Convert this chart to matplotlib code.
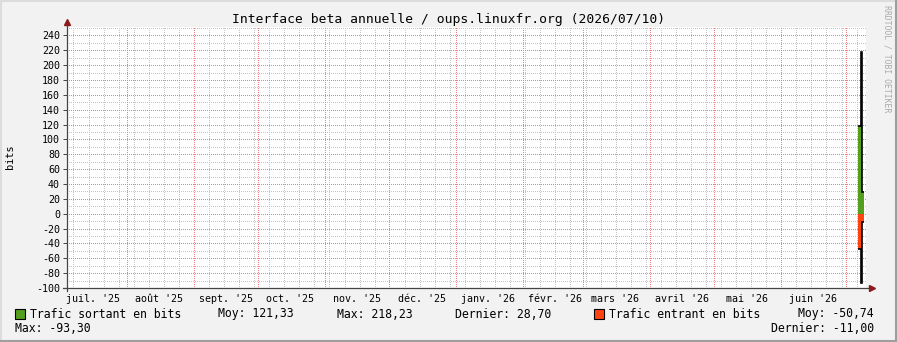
import numpy as np
import pandas as pd
import matplotlib
matplotlib.use('Agg')
import matplotlib.pyplot as plt
import matplotlib.dates as mdates
from matplotlib.lines import Line2D
from matplotlib.patches import Rectangle

# --- data ---
x_start = pd.Timestamp('2025-07-04 03:00')
x_end = pd.Timestamp('2026-07-10 12:00')

area_edges = pd.to_datetime(['2026-07-06 19:00', '2026-07-08 10:00', '2026-07-09 19:00'])
out_area = [117.5, 28.7]      # trafic sortant (moyenne)
in_area = [-47.0, -11.0]      # trafic entrant (moyenne)

line_edges = pd.to_datetime(['2026-07-06 19:00', '2026-07-08 06:00', '2026-07-08 12:00', '2026-07-09 19:00'])
out_max = [117.5, 218.23, 28.7]
in_max = [-47.0, -93.3, -11.0]

month_labels = ["juil. '25", "août '25", "sept. '25", "oct. '25", "nov. '25", "déc. '25",
                "janv. '26", "févr. '26", "mars '26", "avril '26", "mai '26", "juin '26"]
month_starts = pd.date_range('2025-07-01', periods=12, freq='MS')

y_ticks = list(range(-100, 241, 20))

legend_row1 = [("Moy: 121,33", 218), ("Max: 218,23", 337), ("Dernier: 28,70", 455)]

title = "Interface beta annuelle / oups.linuxfr.org (2026/07/10)"

GREEN = '#54a01e'
RED = '#ff4412'
BG = '#f2f2f2'
W, H = 897, 342

plt.rcParams['font.family'] = ['DejaVu Sans Mono']
plt.rcParams['lines.scale_dashes'] = False

fig = plt.figure(figsize=(W / 100, H / 100), dpi=100, facecolor=BG)
ax = fig.add_axes([67 / W, 54 / H, 799 / W, 261 / H])
ax.set_facecolor('white')


def px(x, y):
    return x / W, 1 - y / H


# grid: dotted like rrdtool
dots = dict(lw=0.72, ls=(0, (0.72, 1.44)), dash_capstyle='butt', antialiased=False)
for y in range(-100, 252, 10):
    major = y % 20 == 0
    ax.axhline(y, color='#ec8080' if major else '#c4c4c4', zorder=1.2 if major else 1, **dots)
for d in pd.date_range(x_start, x_end, freq='W-MON'):
    if d.day != 1:
        ax.axvline(mdates.date2num(d), color='#c4c4c4', zorder=1, **dots)
for d in pd.date_range('2025-08-01', x_end, freq='MS'):
    ax.axvline(mdates.date2num(d), color='#ec8080', zorder=1.1, **dots)

# data
ae = mdates.date2num(area_edges)
le = mdates.date2num(line_edges)
ax.stairs(out_area, ae, baseline=0, fill=True, color=GREEN, zorder=3)
ax.stairs(in_area, ae, baseline=0, fill=True, color=RED, zorder=3)
ax.stairs(out_max, le, baseline=None, color='black', lw=1.2, zorder=4)
ax.stairs(in_max, le, baseline=None, color='black', lw=1.2, zorder=4)

ax.set_xlim(mdates.date2num(x_start), mdates.date2num(x_end))
ax.set_ylim(-100, 251.3)

# ticks / labels
ax.set_yticks(y_ticks)
ax.set_yticklabels([str(v) for v in y_ticks], fontsize=7.2)
ax.tick_params(axis='y', length=3, width=0.7, color='#444444', pad=2)
mid = mdates.date2num(month_starts + pd.Timedelta(days=15))
ax.set_xticks(mid)
ax.set_xticklabels(month_labels, fontsize=7.2)
ax.tick_params(axis='x', length=0, pad=4)
for s in ax.spines.values():
    s.set_visible(False)

# axis lines with arrows
fig.add_artist(Line2D([px(63, 0)[0], px(870, 0)[0]], [px(0, 288)[1]] * 2,
                      color='#444444', lw=0.9, transform=fig.transFigure))
fig.add_artist(Line2D([px(67, 0)[0]] * 2, [px(0, 291)[1], px(0, 24)[1]],
                      color='#444444', lw=0.9, transform=fig.transFigure))
fig.add_artist(Line2D([px(872, 0)[0]], [px(0, 288)[1]], marker='>', ms=5, color='#8b1a1a',
                      transform=fig.transFigure))
fig.add_artist(Line2D([px(67, 0)[0]], [px(0, 22)[1]], marker='^', ms=5, color='#8b1a1a',
                      transform=fig.transFigure))

# texts
fig.text(*px(448.5, 19), title, fontsize=9.4, ha='center', va='center')
fig.text(*px(10, 157), 'bits', fontsize=7.4, rotation=90, ha='center', va='center')
fig.text(*px(887, 59), 'RRDTOOL / TOBI OETIKER', fontsize=5.9, rotation=270,
         ha='center', va='center', color='#aaaaaa')

# legend
fig.add_artist(Rectangle(px(15, 319), 10 / W, 10 / H, facecolor=GREEN, edgecolor='black',
                         lw=0.8, transform=fig.transFigure))
fig.text(*px(30, 314), 'Trafic sortant en bits', fontsize=8.3, va='center')
for txt, xp in legend_row1:
    fig.text(*px(xp, 314), txt, fontsize=8.3, va='center')
fig.add_artist(Rectangle(px(594, 319), 10 / W, 10 / H, facecolor=RED, edgecolor='black',
                         lw=0.8, transform=fig.transFigure))
fig.text(*px(609, 314), 'Trafic entrant en bits', fontsize=8.3, va='center')
fig.text(*px(874, 314), 'Moy: -50,74', fontsize=8.3, va='center', ha='right')
fig.text(*px(15, 328), 'Max: -93,30', fontsize=8.3, va='center')
fig.text(*px(874, 328), 'Dernier: -11,00', fontsize=8.3, va='center', ha='right')

# 3d border
fig.add_artist(Line2D([0, 1], [px(0, 1)[1]] * 2, color='#dcdcdc', lw=1.5, transform=fig.transFigure))
fig.add_artist(Line2D([px(1, 0)[0]] * 2, [0, 1], color='#dcdcdc', lw=1.5, transform=fig.transFigure))
fig.add_artist(Line2D([0, 1], [px(0, 341)[1]] * 2, color='#9e9e9e', lw=1.5, transform=fig.transFigure))
fig.add_artist(Line2D([px(896, 0)[0]] * 2, [0, 1], color='#9e9e9e', lw=1.5, transform=fig.transFigure))

fig.savefig('out.png', dpi=100, facecolor=BG)
